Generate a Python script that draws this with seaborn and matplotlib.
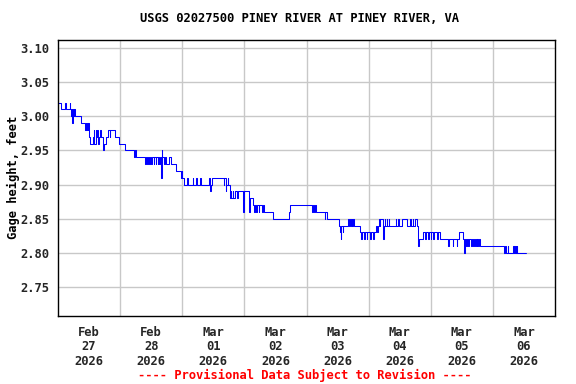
import matplotlib
matplotlib.use("Agg")
import matplotlib.pyplot as plt
import seaborn as sns
import pandas as pd
import numpy as np

# ---- data: step breakpoints (hours after 2026-02-27 00:00, gage height ft) ----
hours = [0.0, 1.25, 2.75, 3.25, 4.5, 4.75, 5.0, 5.25, 5.5, 5.75, 6.0, 6.25, 6.5,
         8.75, 10.5, 10.75, 11.0, 11.25, 11.5, 11.75, 12.0, 12.25, 13.5, 13.75,
         14.0, 14.5, 14.75, 15.25, 15.5, 16.0, 16.25, 16.5, 17.5, 17.75, 18.5,
         19.5, 20.0, 20.25, 22.0, 23.5, 26.0, 29.5, 29.75, 30.0, 33.75, 34.0,
         34.5, 34.75, 35.25, 35.5, 36.0, 36.25, 37.0, 37.25, 37.75, 38.0, 38.5,
         38.75, 39.0, 39.5, 39.75, 40.0, 40.25, 41.0, 41.25, 41.75, 43.0, 43.5,
         45.5, 47.5, 47.75, 48.0, 48.5, 50.0, 50.25, 52.0, 52.25, 53.5, 53.75,
         55.0, 55.25, 58.5, 58.75, 59.0, 59.5, 64.0, 64.25, 64.75, 65.0, 65.5,
         65.75, 66.5, 66.75, 67.0, 67.5, 67.75, 68.25, 69.25, 69.5, 71.5, 71.75,
         73.75, 74.0, 75.5, 75.75, 76.0, 76.5, 76.75, 77.5, 77.75, 79.0, 79.25,
         79.5, 83.25, 89.25, 89.75, 98.25, 98.5, 99.0, 99.25, 99.5, 103.0,
         103.25, 103.75, 108.5, 109.0, 109.25, 109.5, 110.0, 110.25, 112.0,
         112.25, 112.75, 113.0, 113.5, 113.75, 114.0, 114.5, 116.75, 117.0,
         117.25, 118.25, 118.5, 119.25, 119.5, 120.5, 120.75, 121.75, 122.0,
         122.75, 123.25, 123.5, 124.0, 124.25, 124.5, 125.5, 125.75, 126.25,
         126.5, 127.0, 127.25, 127.75, 128.0, 130.5, 130.75, 131.5, 131.75,
         133.0, 135.0, 136.0, 136.25, 137.0, 137.25, 138.0, 138.75, 139.25,
         139.5, 141.0, 141.75, 142.0, 143.0, 143.25, 144.0, 144.25, 145.0,
         145.25, 146.5, 146.75, 147.5, 150.75, 151.0, 152.5, 152.75, 154.0,
         154.25, 155.0, 156.5, 157.0, 157.25, 157.75, 158.0, 158.5, 158.75,
         159.5, 159.75, 160.5, 160.75, 161.25, 161.5, 161.75, 162.0, 162.25,
         162.75, 163.0, 172.25, 172.5, 173.0, 173.75, 174.0, 175.75, 176.0,
         176.25, 176.5, 176.75, 177.0, 177.25, 177.5, 180.75]
gage = [3.02, 3.01, 3.02, 3.01, 3.02, 3.01, 3.00, 3.01, 2.99, 3.01, 3.00, 3.01, 3.00,
        2.99, 2.98, 2.99, 2.98, 2.99, 2.98, 2.99, 2.97, 2.96, 2.97, 2.98,
        2.96, 2.98, 2.97, 2.98, 2.96, 2.97, 2.98, 2.97, 2.95, 2.96, 2.97,
        2.98, 2.97, 2.98, 2.97, 2.96, 2.95, 2.94, 2.95, 2.94, 2.93, 2.94,
        2.93, 2.94, 2.93, 2.94, 2.93, 2.94, 2.93, 2.94, 2.93, 2.94, 2.93,
        2.94, 2.93, 2.94, 2.91, 2.95, 2.94, 2.93, 2.94, 2.93, 2.94, 2.93,
        2.92, 2.91, 2.92, 2.91, 2.90, 2.91, 2.90, 2.91, 2.90, 2.91, 2.90,
        2.91, 2.90, 2.91, 2.89, 2.90, 2.91, 2.90, 2.91, 2.89, 2.90, 2.91,
        2.90, 2.88, 2.89, 2.88, 2.89, 2.88, 2.89, 2.88, 2.89, 2.86, 2.89,
        2.86, 2.88, 2.87, 2.86, 2.87, 2.86, 2.87, 2.86, 2.87, 2.86, 2.87,
        2.86, 2.85, 2.86, 2.87, 2.86, 2.87, 2.86, 2.87, 2.86, 2.85,
        2.86, 2.85, 2.84, 2.83, 2.82, 2.84, 2.83, 2.84, 2.85,
        2.84, 2.85, 2.84, 2.85, 2.84, 2.85, 2.84, 2.83, 2.82,
        2.83, 2.82, 2.83, 2.82, 2.83, 2.82, 2.83, 2.82, 2.83,
        2.84, 2.83, 2.84, 2.85, 2.84, 2.85, 2.82, 2.84, 2.85,
        2.84, 2.85, 2.84, 2.85, 2.84, 2.85, 2.84, 2.85, 2.84,
        2.85, 2.84, 2.85, 2.84, 2.85, 2.84, 2.85, 2.84, 2.81,
        2.82, 2.83, 2.82, 2.83, 2.82, 2.83, 2.82, 2.83, 2.82,
        2.83, 2.82, 2.83, 2.82, 2.81, 2.82, 2.81, 2.82, 2.81,
        2.82, 2.83, 2.82, 2.80, 2.82, 2.81, 2.82, 2.81, 2.82,
        2.81, 2.82, 2.81, 2.82, 2.81, 2.82, 2.81, 2.82, 2.81,
        2.82, 2.81, 2.80, 2.81, 2.80, 2.81, 2.80, 2.81, 2.80,
        2.81, 2.80, 2.81, 2.80, 2.81, 2.80, 2.80]

day_labels = ["Feb\n27\n2026", "Feb\n28\n2026", "Mar\n01\n2026", "Mar\n02\n2026",
              "Mar\n03\n2026", "Mar\n04\n2026", "Mar\n05\n2026", "Mar\n06\n2026"]
y_ticks = [2.75, 2.80, 2.85, 2.90, 2.95, 3.00, 3.05, 3.10]

title = "USGS 02027500 PINEY RIVER AT PINEY RIVER, VA"
ylabel = "Gage height, feet"
footer = "---- Provisional Data Subject to Revision ----"

# ---- build frame ----
start = pd.Timestamp("2026-02-27 00:00")
df = pd.DataFrame({"time": start + pd.to_timedelta(hours, unit="h"), "gage": gage})

sns.set_style("white")
plt.rcParams["font.family"] = ["DejaVu Sans Mono"]
plt.rcParams["font.weight"] = "bold"

fig = plt.figure(figsize=(5.76, 3.84), dpi=100)
ax = fig.add_axes([58/576, 1-316/384, (555-58)/576, (316-40)/384])

sns.lineplot(data=df, x="time", y="gage", drawstyle="steps-post", color="#0000ff",
             lw=0.75, estimator=None, ax=ax)

ax.set_xlim(start, start + pd.Timedelta(days=8))
ax.set_ylim(2.7075, 3.1117)

noon = [start + pd.Timedelta(hours=12 + 24*i) for i in range(8)]
midnight = [start + pd.Timedelta(days=i) for i in range(1, 8)]
ax.set_xticks(noon)
ax.set_xticklabels(day_labels, fontsize=8.7, fontweight="bold", linespacing=1.15)
ax.set_xticks(midnight, minor=True)
ax.set_yticks(y_ticks)
ax.set_yticklabels([f"{v:.2f}" for v in y_ticks], fontsize=8.7, fontweight="bold")

ax.tick_params(axis="both", which="both", length=0)
ax.tick_params(axis="x", pad=7)
ax.tick_params(axis="y", pad=6)
ax.grid(False)
ax.xaxis.grid(True, which="minor", color="#c8c8c8", lw=1)
ax.yaxis.grid(True, which="major", color="#c8c8c8", lw=1)
ax.set_axisbelow(True)
for s in ax.spines.values():
    s.set_color("black")
    s.set_linewidth(1.0)
ax.set_xlabel("")
ax.set_ylabel("")

fig.text(299/576, 1-19/384, title, ha="center", va="center", fontsize=8.7,
         fontweight="bold", color="black")
fig.text(13/576, 1-177/384, ylabel, ha="center", va="center", rotation=90,
         fontsize=8.7, fontweight="bold", color="black")
fig.text(305/576, 1-375/384, footer, ha="center", va="center", fontsize=8.7,
         fontweight="bold", color="#ff0000")

fig.savefig("out.png", dpi=100)
